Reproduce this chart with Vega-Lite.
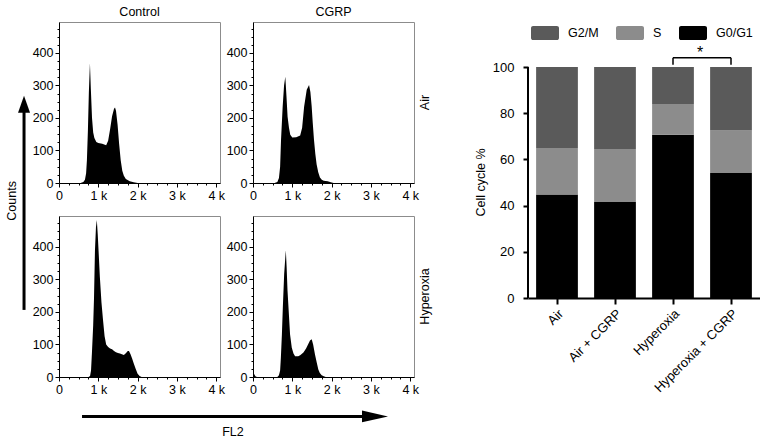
{
  "$schema": "https://vega.github.io/schema/vega-lite/v6.json",
  "padding": {"left": 0, "top": 5, "right": 0, "bottom": 0},
  "config": {
    "font": "Liberation Sans",
    "view": {"stroke": "#8c8c8c"},
    "axis": {"labelFont": "Liberation Sans", "titleFont": "Liberation Sans", "labelColor": "black", "titleColor": "black", "titleFontWeight": "normal", "domainColor": "black", "tickColor": "black", "grid": false},
    "header": {"labelFont": "Liberation Sans", "labelColor": "black"},
    "legend": {"labelFont": "Liberation Sans", "labelColor": "black"}
  },
  "resolve": {"legend": {"color": "independent"}},
  "datasets": {
    "hist": [
      {"trt":"Control","o2":"Air","fl":0,"n":0},{"trt":"Control","o2":"Air","fl":550,"n":0},{"trt":"Control","o2":"Air","fl":620,"n":3},{"trt":"Control","o2":"Air","fl":660,"n":10},{"trt":"Control","o2":"Air","fl":690,"n":30},{"trt":"Control","o2":"Air","fl":710,"n":70},{"trt":"Control","o2":"Air","fl":735,"n":160},{"trt":"Control","o2":"Air","fl":760,"n":280},{"trt":"Control","o2":"Air","fl":787,"n":368},{"trt":"Control","o2":"Air","fl":810,"n":290},{"trt":"Control","o2":"Air","fl":840,"n":200},{"trt":"Control","o2":"Air","fl":870,"n":155},{"trt":"Control","o2":"Air","fl":900,"n":138},{"trt":"Control","o2":"Air","fl":950,"n":126},{"trt":"Control","o2":"Air","fl":1000,"n":123},{"trt":"Control","o2":"Air","fl":1100,"n":121},{"trt":"Control","o2":"Air","fl":1200,"n":116},{"trt":"Control","o2":"Air","fl":1250,"n":130},{"trt":"Control","o2":"Air","fl":1300,"n":165},{"trt":"Control","o2":"Air","fl":1350,"n":205},{"trt":"Control","o2":"Air","fl":1400,"n":228},{"trt":"Control","o2":"Air","fl":1425,"n":232},{"trt":"Control","o2":"Air","fl":1450,"n":222},{"trt":"Control","o2":"Air","fl":1490,"n":180},{"trt":"Control","o2":"Air","fl":1530,"n":120},{"trt":"Control","o2":"Air","fl":1570,"n":70},{"trt":"Control","o2":"Air","fl":1610,"n":38},{"trt":"Control","o2":"Air","fl":1650,"n":22},{"trt":"Control","o2":"Air","fl":1700,"n":12},{"trt":"Control","o2":"Air","fl":1800,"n":5},{"trt":"Control","o2":"Air","fl":1900,"n":2},{"trt":"Control","o2":"Air","fl":2000,"n":0},{"trt":"Control","o2":"Air","fl":4096,"n":0},
      {"trt":"CGRP","o2":"Air","fl":0,"n":0},{"trt":"CGRP","o2":"Air","fl":550,"n":0},{"trt":"CGRP","o2":"Air","fl":620,"n":3},{"trt":"CGRP","o2":"Air","fl":660,"n":15},{"trt":"CGRP","o2":"Air","fl":690,"n":50},{"trt":"CGRP","o2":"Air","fl":713,"n":132},{"trt":"CGRP","o2":"Air","fl":755,"n":235},{"trt":"CGRP","o2":"Air","fl":790,"n":300},{"trt":"CGRP","o2":"Air","fl":822,"n":327},{"trt":"CGRP","o2":"Air","fl":850,"n":270},{"trt":"CGRP","o2":"Air","fl":880,"n":204},{"trt":"CGRP","o2":"Air","fl":915,"n":170},{"trt":"CGRP","o2":"Air","fl":948,"n":148},{"trt":"CGRP","o2":"Air","fl":1000,"n":140},{"trt":"CGRP","o2":"Air","fl":1100,"n":141},{"trt":"CGRP","o2":"Air","fl":1200,"n":146},{"trt":"CGRP","o2":"Air","fl":1250,"n":170},{"trt":"CGRP","o2":"Air","fl":1301,"n":235},{"trt":"CGRP","o2":"Air","fl":1367,"n":287},{"trt":"CGRP","o2":"Air","fl":1426,"n":301},{"trt":"CGRP","o2":"Air","fl":1460,"n":280},{"trt":"CGRP","o2":"Air","fl":1493,"n":235},{"trt":"CGRP","o2":"Air","fl":1520,"n":185},{"trt":"CGRP","o2":"Air","fl":1552,"n":132},{"trt":"CGRP","o2":"Air","fl":1585,"n":90},{"trt":"CGRP","o2":"Air","fl":1618,"n":58},{"trt":"CGRP","o2":"Air","fl":1660,"n":33},{"trt":"CGRP","o2":"Air","fl":1703,"n":17},{"trt":"CGRP","o2":"Air","fl":1750,"n":10},{"trt":"CGRP","o2":"Air","fl":1800,"n":7},{"trt":"CGRP","o2":"Air","fl":1900,"n":5},{"trt":"CGRP","o2":"Air","fl":1980,"n":2},{"trt":"CGRP","o2":"Air","fl":2050,"n":0},{"trt":"CGRP","o2":"Air","fl":4096,"n":0},
      {"trt":"Control","o2":"Hyperoxia","fl":0,"n":0},{"trt":"Control","o2":"Hyperoxia","fl":750,"n":0},{"trt":"Control","o2":"Hyperoxia","fl":790,"n":3},{"trt":"Control","o2":"Hyperoxia","fl":815,"n":20},{"trt":"Control","o2":"Hyperoxia","fl":840,"n":80},{"trt":"Control","o2":"Hyperoxia","fl":870,"n":160},{"trt":"Control","o2":"Hyperoxia","fl":890,"n":240},{"trt":"Control","o2":"Hyperoxia","fl":915,"n":390},{"trt":"Control","o2":"Hyperoxia","fl":940,"n":460},{"trt":"Control","o2":"Hyperoxia","fl":962,"n":483},{"trt":"Control","o2":"Hyperoxia","fl":985,"n":440},{"trt":"Control","o2":"Hyperoxia","fl":1010,"n":380},{"trt":"Control","o2":"Hyperoxia","fl":1040,"n":307},{"trt":"Control","o2":"Hyperoxia","fl":1080,"n":230},{"trt":"Control","o2":"Hyperoxia","fl":1120,"n":175},{"trt":"Control","o2":"Hyperoxia","fl":1160,"n":125},{"trt":"Control","o2":"Hyperoxia","fl":1200,"n":100},{"trt":"Control","o2":"Hyperoxia","fl":1250,"n":92},{"trt":"Control","o2":"Hyperoxia","fl":1300,"n":88},{"trt":"Control","o2":"Hyperoxia","fl":1350,"n":85},{"trt":"Control","o2":"Hyperoxia","fl":1400,"n":80},{"trt":"Control","o2":"Hyperoxia","fl":1450,"n":76},{"trt":"Control","o2":"Hyperoxia","fl":1500,"n":74},{"trt":"Control","o2":"Hyperoxia","fl":1550,"n":72},{"trt":"Control","o2":"Hyperoxia","fl":1600,"n":70},{"trt":"Control","o2":"Hyperoxia","fl":1650,"n":68},{"trt":"Control","o2":"Hyperoxia","fl":1700,"n":73},{"trt":"Control","o2":"Hyperoxia","fl":1750,"n":80},{"trt":"Control","o2":"Hyperoxia","fl":1780,"n":80},{"trt":"Control","o2":"Hyperoxia","fl":1820,"n":70},{"trt":"Control","o2":"Hyperoxia","fl":1860,"n":57},{"trt":"Control","o2":"Hyperoxia","fl":1900,"n":42},{"trt":"Control","o2":"Hyperoxia","fl":1950,"n":25},{"trt":"Control","o2":"Hyperoxia","fl":2000,"n":10},{"trt":"Control","o2":"Hyperoxia","fl":2050,"n":3},{"trt":"Control","o2":"Hyperoxia","fl":2100,"n":0},{"trt":"Control","o2":"Hyperoxia","fl":4096,"n":0},
      {"trt":"CGRP","o2":"Hyperoxia","fl":0,"n":15},{"trt":"CGRP","o2":"Hyperoxia","fl":25,"n":10},{"trt":"CGRP","o2":"Hyperoxia","fl":60,"n":2},{"trt":"CGRP","o2":"Hyperoxia","fl":100,"n":0},{"trt":"CGRP","o2":"Hyperoxia","fl":620,"n":0},{"trt":"CGRP","o2":"Hyperoxia","fl":660,"n":5},{"trt":"CGRP","o2":"Hyperoxia","fl":690,"n":20},{"trt":"CGRP","o2":"Hyperoxia","fl":709,"n":59},{"trt":"CGRP","o2":"Hyperoxia","fl":735,"n":130},{"trt":"CGRP","o2":"Hyperoxia","fl":759,"n":214},{"trt":"CGRP","o2":"Hyperoxia","fl":793,"n":317},{"trt":"CGRP","o2":"Hyperoxia","fl":835,"n":390},{"trt":"CGRP","o2":"Hyperoxia","fl":855,"n":340},{"trt":"CGRP","o2":"Hyperoxia","fl":878,"n":266},{"trt":"CGRP","o2":"Hyperoxia","fl":903,"n":214},{"trt":"CGRP","o2":"Hyperoxia","fl":943,"n":131},{"trt":"CGRP","o2":"Hyperoxia","fl":987,"n":90},{"trt":"CGRP","o2":"Hyperoxia","fl":1030,"n":72},{"trt":"CGRP","o2":"Hyperoxia","fl":1071,"n":64},{"trt":"CGRP","o2":"Hyperoxia","fl":1150,"n":64},{"trt":"CGRP","o2":"Hyperoxia","fl":1200,"n":67},{"trt":"CGRP","o2":"Hyperoxia","fl":1283,"n":75},{"trt":"CGRP","o2":"Hyperoxia","fl":1350,"n":88},{"trt":"CGRP","o2":"Hyperoxia","fl":1400,"n":100},{"trt":"CGRP","o2":"Hyperoxia","fl":1450,"n":112},{"trt":"CGRP","o2":"Hyperoxia","fl":1494,"n":116},{"trt":"CGRP","o2":"Hyperoxia","fl":1530,"n":100},{"trt":"CGRP","o2":"Hyperoxia","fl":1577,"n":69},{"trt":"CGRP","o2":"Hyperoxia","fl":1620,"n":45},{"trt":"CGRP","o2":"Hyperoxia","fl":1662,"n":23},{"trt":"CGRP","o2":"Hyperoxia","fl":1700,"n":12},{"trt":"CGRP","o2":"Hyperoxia","fl":1747,"n":5},{"trt":"CGRP","o2":"Hyperoxia","fl":1800,"n":2},{"trt":"CGRP","o2":"Hyperoxia","fl":1850,"n":0},{"trt":"CGRP","o2":"Hyperoxia","fl":4096,"n":0}
    ],
    "cc": [
      {"grp":"Air","phase":"G0/G1","pct":44.8},{"grp":"Air","phase":"S","pct":20.1},{"grp":"Air","phase":"G2/M","pct":35.1},
      {"grp":"Air + CGRP","phase":"G0/G1","pct":41.6},{"grp":"Air + CGRP","phase":"S","pct":22.9},{"grp":"Air + CGRP","phase":"G2/M","pct":35.5},
      {"grp":"Hyperoxia","phase":"G0/G1","pct":70.7},{"grp":"Hyperoxia","phase":"S","pct":13.3},{"grp":"Hyperoxia","phase":"G2/M","pct":16.0},
      {"grp":"Hyperoxia + CGRP","phase":"G0/G1","pct":54.1},{"grp":"Hyperoxia + CGRP","phase":"S","pct":18.4},{"grp":"Hyperoxia + CGRP","phase":"G2/M","pct":27.5}
    ]
  },
  "spacing": 43,
  "hconcat": [
    {
      "spacing": 6,
      "vconcat": [
        {
          "spacing": 0,
          "hconcat": [
            {
              "width": 27, "height": 355,
              "view": {"stroke": null},
              "data": {"values": [{}]},
              "layer": [
                {"mark": {"type": "rule", "strokeWidth": 3, "color": "black"},
                 "encoding": {
                   "x": {"datum": 0.89, "type": "quantitative", "scale": {"domain": [0, 1]}, "axis": null},
                   "y": {"datum": 0.189, "type": "quantitative", "scale": {"domain": [0, 1]}, "axis": null},
                   "y2": {"datum": 0.77}}},
                {"mark": {"type": "point", "shape": "M0,0L-0.5,1.4L0.5,1.4Z", "size": 576, "filled": true, "color": "black", "opacity": 1, "strokeWidth": 0},
                 "encoding": {
                   "x": {"datum": 0.89, "type": "quantitative"},
                   "y": {"datum": 0.792, "type": "quantitative"}}},
                {"mark": {"type": "text", "text": "Counts", "angle": 270, "fontSize": 12.5, "color": "black", "baseline": "middle", "align": "center"},
                 "encoding": {
                   "x": {"datum": 0.44, "type": "quantitative"},
                   "y": {"datum": 0.496, "type": "quantitative"}}}
              ]
            },
            {
              "data": {"name": "hist"},
              "bounds": "flush",
              "spacing": {"row": 33, "column": 33},
              "resolve": {"axis": {"x": "independent", "y": "independent"}},
              "facet": {
                "row": {"field": "o2", "type": "nominal", "sort": ["Air", "Hyperoxia"],
                        "header": {"title": null, "labelOrient": "right", "labelAngle": -90, "labelFontSize": 12.5, "labelPadding": -2}},
                "column": {"field": "trt", "type": "nominal", "sort": ["Control", "CGRP"],
                           "header": {"title": null, "labelFontSize": 12.5, "labelPadding": 4}}
              },
              "spec": {
                "width": 161, "height": 161,
                "mark": {"type": "area", "color": "black", "interpolate": "linear", "orient": "vertical"},
                "encoding": {
                  "x": {"field": "fl", "type": "quantitative", "scale": {"domain": [0, 4096], "nice": false},
                        "axis": {"title": null, "values": [0,250,500,750,1000,1250,1500,1750,2000,2250,2500,2750,3000,3250,3500,3750,4000],
                                 "labelExpr": "datum.value % 1000 === 0 ? (datum.value === 0 ? '0' : datum.value / 1000 + ' k') : ''",
                                 "labelOverlap": false, "labelFlush": false, "labelFontSize": 12.5, "labelPadding": 2,
                                 "tickSize": {"condition": {"test": "datum.value % 1000 === 0", "value": 4}, "value": 2}}},
                  "y": {"field": "n", "type": "quantitative", "stack": null, "scale": {"domain": [0, 495], "nice": false},
                        "axis": {"title": null, "values": [0,25,50,75,100,125,150,175,200,225,250,275,300,325,350,375,400,425,450,475],
                                 "labelExpr": "datum.value % 100 === 0 ? datum.value : ''",
                                 "labelOverlap": false, "labelFontSize": 12.5, "labelPadding": 2,
                                 "tickSize": {"condition": {"test": "datum.value % 100 === 0", "value": 4}, "value": 2}}}
                }
              }
            }
          ]
        },
        {
          "width": 425, "height": 38,
          "view": {"stroke": null},
          "data": {"values": [{}]},
          "layer": [
            {"mark": {"type": "rule", "strokeWidth": 3, "color": "black"},
             "encoding": {
               "x": {"datum": 0.193, "type": "quantitative", "scale": {"domain": [0, 1]}, "axis": null},
               "x2": {"datum": 0.88},
               "y": {"datum": 0.62, "type": "quantitative", "scale": {"domain": [0, 1]}, "axis": null}}},
            {"mark": {"type": "point", "shape": "M0,0L-2,-0.45L-2,0.45Z", "size": 676, "filled": true, "color": "black", "opacity": 1, "strokeWidth": 0},
             "encoding": {
               "x": {"datum": 0.913, "type": "quantitative"},
               "y": {"datum": 0.62, "type": "quantitative"}}},
            {"mark": {"type": "text", "text": "FL2", "fontSize": 12.5, "color": "black", "baseline": "middle", "align": "center"},
             "encoding": {
               "x": {"datum": 0.548, "type": "quantitative"},
               "y": {"datum": 0.2, "type": "quantitative"}}}
          ]
        }
      ]
    },
    {
      "width": 232, "height": 276,
      "view": {"stroke": null},
      "data": {"name": "cc"},
      "layer": [
        {
          "transform": [{"calculate": "indexof(['G0/G1','S','G2/M'], datum.phase)", "as": "ord"}],
          "mark": {"type": "bar"},
          "encoding": {
            "x": {"field": "grp", "type": "nominal", "sort": ["Air", "Air + CGRP", "Hyperoxia", "Hyperoxia + CGRP"],
                  "scale": {"paddingInner": 0.28, "paddingOuter": 0.14},
                  "axis": {"title": null, "labelAngle": -45, "labelFontSize": 13, "domainWidth": 2, "tickWidth": 2, "tickSize": 6, "labelPadding": 3}},
            "y": {"field": "pct", "type": "quantitative", "stack": "zero", "scale": {"domain": [0, 119.5], "nice": false},
                  "axis": {"title": "Cell cycle %", "titleFontSize": 12.5, "values": [0, 20, 40, 60, 80, 100], "labelFontSize": 13, "domain": false,
                           "tickWidth": 2, "tickSize": 5, "labelPadding": 9, "titlePadding": 5, "titleY": 160}},
            "color": {"field": "phase", "type": "nominal",
                      "scale": {"domain": ["G2/M", "S", "G0/G1"], "range": ["#5a5a5a", "#8c8c8c", "#000000"]},
                      "legend": {"title": null, "orient": "none", "legendX": 3, "legendY": -3, "direction": "horizontal",
                                 "symbolType": "M-0.85,-0.5H0.85A0.15,0.15 0 0 1 1,-0.35V0.35A0.15,0.15 0 0 1 0.85,0.5H-0.85A0.15,0.15 0 0 1 -1,0.35V-0.35A0.15,0.15 0 0 1 -0.85,-0.5Z",
                                 "symbolSize": 784, "symbolStrokeWidth": 0, "symbolOpacity": 1,
                                 "labelFontSize": 12.5, "labelOffset": 9, "columnPadding": 17, "padding": 0}},
            "order": {"field": "ord", "type": "quantitative"}
          }
        },
        {
          "data": {"values": [{}]},
          "mark": {"type": "rule", "strokeWidth": 2, "color": "black"},
          "encoding": {
            "x": {"datum": "Air", "type": "nominal", "bandPosition": -0.194},
            "y": {"datum": 0, "type": "quantitative"},
            "y2": {"datum": 100}
          }
        },
        {
          "data": {"values": [{}]},
          "mark": {"type": "rule", "strokeWidth": 1.5, "color": "black"},
          "encoding": {
            "x": {"datum": "Hyperoxia", "type": "nominal"},
            "x2": {"datum": "Hyperoxia + CGRP"},
            "y": {"datum": 104, "type": "quantitative"}
          }
        },
        {
          "data": {"values": [{"g": "Hyperoxia"}, {"g": "Hyperoxia + CGRP"}]},
          "mark": {"type": "rule", "strokeWidth": 1.5, "color": "black"},
          "encoding": {
            "x": {"field": "g", "type": "nominal"},
            "y": {"datum": 101, "type": "quantitative"},
            "y2": {"datum": 104}
          }
        },
        {
          "data": {"values": [{}]},
          "mark": {"type": "text", "text": "*", "fontSize": 16, "color": "black", "baseline": "middle", "align": "center"},
          "encoding": {
            "x": {"datum": "Hyperoxia", "type": "nominal", "bandPosition": 1.15},
            "y": {"datum": 106, "type": "quantitative"}
          }
        }
      ]
    }
  ]
}
